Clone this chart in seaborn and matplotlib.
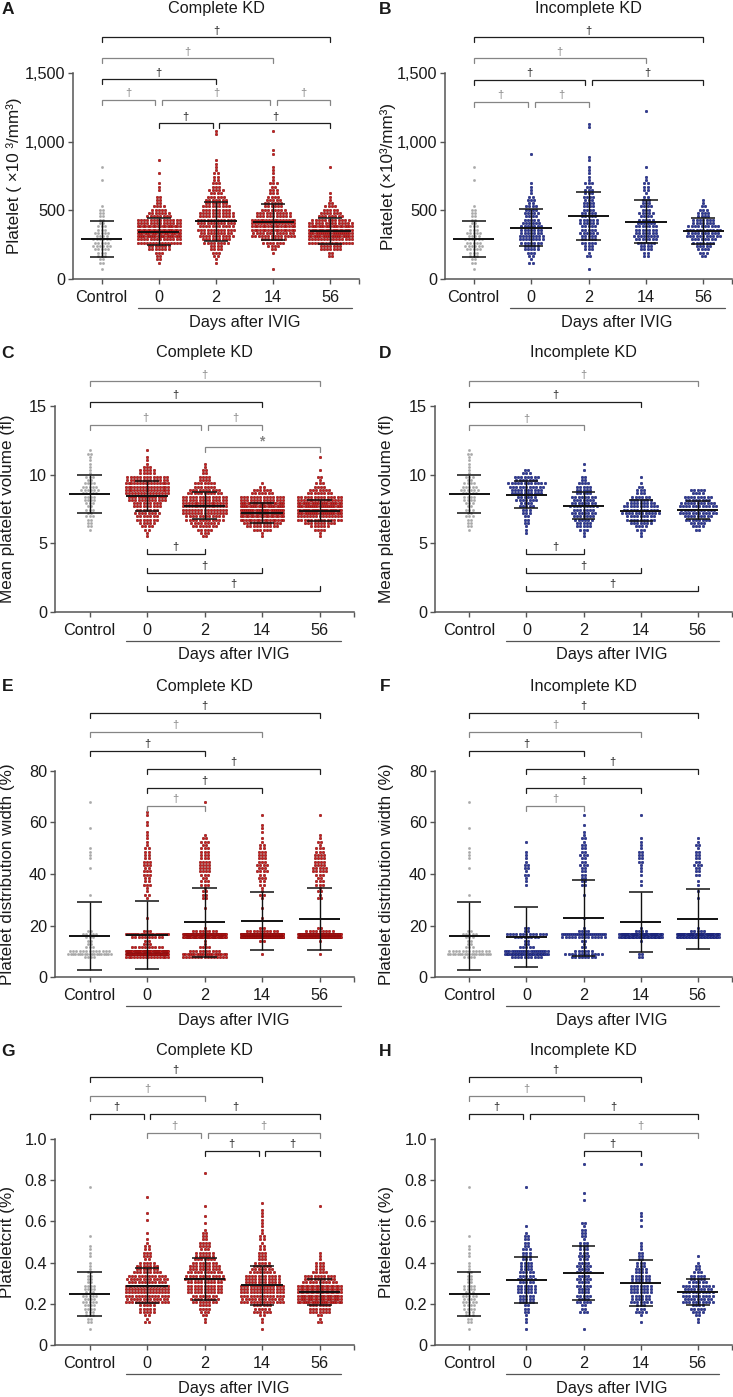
import numpy as np
import pandas as pd
import matplotlib
matplotlib.use("Agg")
import matplotlib.pyplot as plt
import seaborn as sns

# ---------------------------------------------------------------- data
GROUPS = ["Control", "0", "2", "14", "56"]

# Platelet count (x10^3/mm^3): histogram counts per 50-unit bin
PLT_EDGES = list(range(0, 1300, 50))
PLT_CONTROL = [0, 1, 3, 6, 11, 12, 9, 6, 5, 4, 2, 0, 0, 0, 1, 0, 1, 0, 0, 0, 0, 0, 0, 0, 0]
PLT_COMPLETE_D0 = [0, 0, 2, 5, 14, 30, 40, 38, 28, 14, 8, 4, 2, 2, 0, 1, 0, 1, 0, 0, 0, 0, 0, 0, 0]
PLT_COMPLETE_D2 = [0, 0, 2, 4, 8, 18, 22, 24, 25, 22, 18, 14, 10, 7, 5, 3, 2, 1, 0, 0, 0, 2, 0, 0, 0]
PLT_COMPLETE_D14 = [0, 1, 0, 0, 6, 16, 28, 35, 32, 22, 14, 10, 7, 5, 3, 2, 1, 0, 2, 0, 0, 1, 0, 0, 0]
PLT_COMPLETE_D56 = [0, 0, 0, 3, 14, 32, 42, 40, 26, 14, 8, 3, 1, 0, 0, 0, 1, 0, 0, 0, 0, 0, 0, 0, 0]
PLT_INCOMPLETE_D0 = [0, 0, 3, 4, 10, 16, 16, 14, 11, 9, 8, 5, 3, 2, 0, 0, 0, 0, 1, 0, 0, 0, 0, 0, 0]
PLT_INCOMPLETE_D2 = [0, 1, 0, 3, 5, 11, 11, 11, 12, 10, 9, 7, 7, 5, 3, 2, 1, 2, 0, 0, 0, 0, 2, 0, 0]
PLT_INCOMPLETE_D14 = [0, 0, 0, 3, 8, 14, 16, 14, 11, 9, 7, 6, 3, 4, 3, 0, 1, 0, 0, 0, 0, 0, 0, 0, 1]
PLT_INCOMPLETE_D56 = [0, 0, 0, 4, 9, 16, 22, 22, 13, 8, 5, 1, 0, 0, 0, 0, 0, 0, 0, 0, 0, 0, 0, 0, 0]
PLT_MEAN_COMPLETE = [291, 345, 420, 412, 350]
PLT_SD_COMPLETE = [131, 100, 142, 131, 94]
PLT_MEAN_INCOMPLETE = [291, 374, 459, 417, 350]
PLT_SD_INCOMPLETE = [131, 136, 177, 155, 95]
PLT_TICKS = [0, 500, 1000, 1500]
PLT_TICKLABELS = ["0", "500", "1,000", "1,500"]

# Mean platelet volume (fl): counts per 0.5 fl bin
MPV_EDGES = [5.0, 5.5, 6.0, 6.5, 7.0, 7.5, 8.0, 8.5, 9.0, 9.5, 10.0, 10.5, 11.0, 11.5, 12.0, 12.5]
MPV_CONTROL = [0, 0, 4, 5, 5, 5, 8, 12, 9, 5, 2, 2, 3, 2, 0]
MPV_COMPLETE_D0 = [0, 2, 8, 14, 16, 18, 24, 32, 34, 26, 10, 4, 1, 1, 0]
MPV_COMPLETE_D2 = [0, 6, 16, 24, 30, 34, 30, 22, 14, 8, 4, 2, 0, 0, 0]
MPV_COMPLETE_D14 = [0, 3, 20, 34, 44, 42, 30, 14, 3, 0, 0, 0, 0, 0, 0]
MPV_COMPLETE_D56 = [0, 2, 14, 28, 42, 44, 32, 16, 7, 3, 1, 0, 1, 0, 0]
MPV_INCOMPLETE_D0 = [0, 1, 3, 4, 6, 9, 13, 20, 24, 16, 4, 0, 0, 0, 0]
MPV_INCOMPLETE_D2 = [0, 3, 9, 13, 16, 17, 16, 11, 9, 4, 1, 1, 0, 0, 0]
MPV_INCOMPLETE_D14 = [0, 2, 10, 18, 24, 22, 14, 6, 3, 1, 0, 0, 0, 0, 0]
MPV_INCOMPLETE_D56 = [0, 0, 8, 16, 24, 24, 18, 10, 0, 0, 0, 0, 0, 0, 0]
MPV_MEAN_COMPLETE = [8.6, 8.45, 7.75, 7.22, 7.39]
MPV_SD_COMPLETE = [1.37, 1.09, 1.01, 0.72, 0.78]
MPV_MEAN_INCOMPLETE = [8.6, 8.55, 7.75, 7.39, 7.44]
MPV_SD_INCOMPLETE = [1.37, 0.97, 1.0, 0.8, 0.67]
MPV_TICKS = [0, 5, 10, 15]
MPV_TICKLABELS = ["0", "5", "10", "15"]

# Platelet distribution width (%): counts per bin
PDW_EDGES = [7, 8, 9, 10, 11, 12, 13, 14, 15, 16, 17, 18, 19, 20, 25, 30, 35, 40, 45, 50, 55, 60, 65, 70]
PDW_CONTROL = [0, 12, 18, 7, 2, 2, 1, 1, 3, 4, 3, 0, 0, 0, 0, 1, 0, 1, 4, 0, 1, 0, 1]
PDW_COMPLETE_D0 = [4, 35, 45, 25, 6, 3, 2, 1, 10, 20, 3, 1, 0, 1, 0, 5, 9, 11, 8, 5, 2, 3, 0]
PDW_COMPLETE_D2 = [8, 20, 12, 6, 3, 1, 0, 2, 35, 50, 10, 2, 0, 0, 1, 7, 10, 16, 12, 9, 0, 0, 1]
PDW_COMPLETE_D14 = [0, 1, 0, 0, 0, 0, 0, 3, 60, 70, 12, 3, 1, 1, 1, 5, 8, 14, 12, 4, 3, 1, 0]
PDW_COMPLETE_D56 = [0, 1, 0, 0, 0, 0, 0, 2, 55, 65, 10, 3, 1, 0, 0, 6, 10, 18, 14, 6, 0, 1, 0]
PDW_INCOMPLETE_D0 = [3, 20, 25, 12, 4, 2, 1, 1, 8, 12, 2, 2, 1, 0, 0, 0, 4, 7, 3, 1, 0, 0, 0]
PDW_INCOMPLETE_D2 = [4, 12, 6, 4, 2, 1, 1, 1, 14, 22, 4, 2, 0, 1, 0, 1, 7, 9, 9, 7, 2, 1, 0]
PDW_INCOMPLETE_D14 = [1, 2, 1, 0, 0, 0, 0, 2, 30, 38, 5, 2, 0, 0, 0, 0, 3, 4, 8, 3, 0, 1, 0]
PDW_INCOMPLETE_D56 = [0, 0, 0, 0, 0, 0, 0, 0, 28, 38, 6, 2, 0, 0, 0, 2, 3, 9, 8, 4, 0, 0, 0]
PDW_MEAN_COMPLETE = [15.9, 16.3, 21.3, 21.8, 22.7]
PDW_SD_COMPLETE = [13.1, 13.1, 13.4, 11.35, 12.05]
PDW_MEAN_INCOMPLETE = [15.9, 15.5, 23.0, 21.2, 22.5]
PDW_SD_INCOMPLETE = [13.1, 11.55, 14.7, 11.65, 11.75]
PDW_TICKS = [0, 20, 40, 60, 80]
PDW_TICKLABELS = ["0", "20", "40", "60", "80"]

# Plateletcrit (%): counts per 0.05 bin
PCT_EDGES = [0.05, 0.10, 0.15, 0.20, 0.25, 0.30, 0.35, 0.40, 0.45, 0.50, 0.55, 0.60,
             0.65, 0.70, 0.75, 0.80, 0.85, 0.90]
PCT_CONTROL = [1, 6, 12, 14, 12, 6, 3, 3, 2, 1, 0, 0, 0, 0, 1, 0, 0]
PCT_COMPLETE_D0 = [0, 4, 16, 42, 48, 38, 22, 9, 6, 2, 0, 2, 0, 1, 0, 0, 0]
PCT_COMPLETE_D2 = [0, 3, 12, 26, 34, 38, 32, 20, 12, 7, 2, 1, 1, 0, 0, 1, 0]
PCT_COMPLETE_D14 = [1, 3, 18, 42, 44, 34, 20, 10, 6, 5, 3, 3, 2, 0, 0, 0, 0]
PCT_COMPLETE_D56 = [0, 4, 22, 60, 56, 30, 10, 4, 0, 0, 0, 0, 1, 0, 0, 0, 0]
PCT_INCOMPLETE_D0 = [1, 3, 6, 16, 18, 17, 13, 10, 8, 5, 1, 0, 0, 0, 1, 0, 0]
PCT_INCOMPLETE_D2 = [1, 0, 7, 14, 14, 14, 14, 11, 9, 6, 5, 0, 0, 2, 0, 0, 1]
PCT_INCOMPLETE_D14 = [0, 2, 10, 20, 22, 18, 11, 6, 4, 0, 1, 3, 0, 0, 0, 0, 1]
PCT_INCOMPLETE_D56 = [0, 3, 14, 30, 30, 16, 6, 1, 0, 0, 0, 0, 0, 0, 0, 0, 0]
PCT_MEAN_COMPLETE = [0.247, 0.288, 0.32, 0.29, 0.256]
PCT_SD_COMPLETE = [0.108, 0.086, 0.10, 0.095, 0.0625]
PCT_MEAN_INCOMPLETE = [0.247, 0.315, 0.35, 0.302, 0.256]
PCT_SD_INCOMPLETE = [0.108, 0.11, 0.13, 0.112, 0.062]
PCT_TICKS = [0, 0.2, 0.4, 0.6, 0.8, 1.0]
PCT_TICKLABELS = ["0", "0.2", "0.4", "0.6", "0.8", "1.0"]

# significance brackets: (group i, group j, height, mark, tone)
BRACKETS_A = [(0, 4, 1760, "†", "k"), (0, 3, 1607, "†", "g"), (0, 2, 1454, "†", "k"),
              (0, 1, 1303, "†", "g"), (1, 3, 1303, "†", "g"), (3, 4, 1303, "†", "g"),
              (1, 2, 1134, "†", "k"), (2, 4, 1134, "†", "k")]
BRACKETS_B = [(0, 4, 1760, "†", "k"), (0, 3, 1607, "†", "g"), (0, 2, 1449, "†", "k"),
              (2, 4, 1449, "†", "k"), (0, 1, 1291, "†", "g"), (1, 2, 1291, "†", "g")]
BRACKETS_C = [(0, 4, 16.8, "†", "g"), (0, 3, 15.3, "†", "k"), (0, 2, 13.65, "†", "g"),
              (2, 3, 13.65, "†", "g"), (2, 4, 12.05, "*", "g"),
              (1, 2, 4.25, "†", "k"), (1, 3, 2.87, "†", "k"), (1, 4, 1.52, "†", "k")]
BRACKETS_D = [(0, 4, 16.8, "†", "g"), (0, 3, 15.3, "†", "k"), (0, 2, 13.6, "†", "g"),
              (1, 2, 4.25, "†", "k"), (1, 3, 2.87, "†", "k"), (1, 4, 1.52, "†", "k")]
BRACKETS_E = [(0, 4, 102.5, "†", "k"), (0, 3, 95.1, "†", "g"), (0, 2, 87.8, "†", "k"),
              (1, 4, 80.8, "†", "k"), (1, 3, 73.4, "†", "k"), (1, 2, 66.4, "†", "g")]
BRACKETS_F = [(0, 4, 102.5, "†", "k"), (0, 3, 95.1, "†", "g"), (0, 2, 87.8, "†", "k"),
              (1, 4, 80.8, "†", "k"), (1, 3, 73.4, "†", "k"), (1, 2, 66.4, "†", "g")]
BRACKETS_G = [(0, 3, 1.301, "†", "k"), (0, 2, 1.209, "†", "g"), (0, 1, 1.121, "†", "k"),
              (1, 4, 1.121, "†", "k"), (1, 2, 1.029, "†", "g"), (2, 4, 1.029, "†", "g"),
              (2, 3, 0.942, "†", "k"), (3, 4, 0.942, "†", "k")]
BRACKETS_H = [(0, 3, 1.301, "†", "k"), (0, 2, 1.209, "†", "g"), (0, 1, 1.121, "†", "k"),
              (1, 4, 1.121, "†", "k"), (2, 4, 1.029, "†", "g"), (2, 3, 0.942, "†", "k")]

# ---------------------------------------------------------------- style
sns.set_theme(style="ticks")
plt.rcParams["font.family"] = ["Liberation Sans", "DejaVu Sans"]
plt.rcParams["axes.linewidth"] = 1.1

W, H = 733, 1397
fig = plt.figure(figsize=(W / 100, H / 100), dpi=100)
FS = 11.7
FS_LAB = 12.3
TXT = "#1a1a1a"
TONES = {"k": "#1e1e1e", "g": "#858585"}
COLORS = {"control": ("#a9a9a9", "#959595", 2.6, 0.25),
          "complete": ("#d11b1b", "#7a0808", 3.3, 0.35),
          "incomplete": ("#2c3a9c", "#101766", 3.3, 0.35)}


def fx(x):
    return x / W


def fy(y):
    return 1 - y / H


def expand(edges, counts):
    vals = []
    for lo, hi, n in zip(edges[:-1], edges[1:], counts):
        for k in range(n):
            vals.append(lo + (k + 0.5) * (hi - lo) / n)
    return np.array(vals)


def rows_layout(values, center, row_h, dx, max_w):
    r = np.round(values / row_h).astype(int)
    xs, ys = [], []
    for ri in np.unique(r):
        n = int((r == ri).sum())
        s = min(dx, max_w / max(n - 1, 1))
        offs = (np.arange(n) - (n - 1) / 2) * s
        xs.extend(center + offs)
        ys.extend([ri * row_h] * n)
    return np.array(xs), np.array(ys)


PANELS = [
    dict(letter="A", title="Complete KD", box=(73, 73, 359, 279), xlim=(-0.5, 4.5),
         ymax=1500, ticks=PLT_TICKS, ticklabels=PLT_TICKLABELS,
         ylabel="Platelet ( ×10 ³/mm³)", ylab_x=14, title_y=8,
         edges=PLT_EDGES,
         groups=[PLT_CONTROL, PLT_COMPLETE_D0, PLT_COMPLETE_D2, PLT_COMPLETE_D14, PLT_COMPLETE_D56],
         mean=PLT_MEAN_COMPLETE, sd=PLT_SD_COMPLETE, kind="complete", brackets=BRACKETS_A),
    dict(letter="B", title="Incomplete KD", box=(445, 73, 732, 279), xlim=(-0.5, 4.5),
         ymax=1500, ticks=PLT_TICKS, ticklabels=PLT_TICKLABELS,
         ylabel="Platelet (×10³/mm³)", ylab_x=388, title_y=8,
         edges=PLT_EDGES,
         groups=[PLT_CONTROL, PLT_INCOMPLETE_D0, PLT_INCOMPLETE_D2, PLT_INCOMPLETE_D14, PLT_INCOMPLETE_D56],
         mean=PLT_MEAN_INCOMPLETE, sd=PLT_SD_INCOMPLETE, kind="incomplete", brackets=BRACKETS_B),
    dict(letter="C", title="Complete KD", box=(55, 406, 354, 612), xlim=(-0.6, 4.6),
         ymax=15, ticks=MPV_TICKS, ticklabels=MPV_TICKLABELS,
         ylabel="Mean platelet volume (fl)", ylab_x=8, title_y=352,
         edges=MPV_EDGES,
         groups=[MPV_CONTROL, MPV_COMPLETE_D0, MPV_COMPLETE_D2, MPV_COMPLETE_D14, MPV_COMPLETE_D56],
         mean=MPV_MEAN_COMPLETE, sd=MPV_SD_COMPLETE, kind="complete", brackets=BRACKETS_C),
    dict(letter="D", title="Incomplete KD", box=(435, 406, 732, 612), xlim=(-0.6, 4.6),
         ymax=15, ticks=MPV_TICKS, ticklabels=MPV_TICKLABELS,
         ylabel="Mean platelet volume (fl)", ylab_x=387, title_y=352,
         edges=MPV_EDGES,
         groups=[MPV_CONTROL, MPV_INCOMPLETE_D0, MPV_INCOMPLETE_D2, MPV_INCOMPLETE_D14, MPV_INCOMPLETE_D56],
         mean=MPV_MEAN_INCOMPLETE, sd=MPV_SD_INCOMPLETE, kind="incomplete", brackets=BRACKETS_D),
    dict(letter="E", title="Complete KD", box=(55, 771, 354, 977), xlim=(-0.6, 4.6),
         ymax=80, ticks=PDW_TICKS, ticklabels=PDW_TICKLABELS,
         ylabel="Platelet distribution width (%)", ylab_x=8, title_y=686,
         edges=PDW_EDGES,
         groups=[PDW_CONTROL, PDW_COMPLETE_D0, PDW_COMPLETE_D2, PDW_COMPLETE_D14, PDW_COMPLETE_D56],
         mean=PDW_MEAN_COMPLETE, sd=PDW_SD_COMPLETE, kind="complete", brackets=BRACKETS_E),
    dict(letter="F", title="Incomplete KD", box=(435, 771, 732, 977), xlim=(-0.6, 4.6),
         ymax=80, ticks=PDW_TICKS, ticklabels=PDW_TICKLABELS,
         ylabel="Platelet distribution width (%)", ylab_x=387, title_y=686,
         edges=PDW_EDGES,
         groups=[PDW_CONTROL, PDW_INCOMPLETE_D0, PDW_INCOMPLETE_D2, PDW_INCOMPLETE_D14, PDW_INCOMPLETE_D56],
         mean=PDW_MEAN_INCOMPLETE, sd=PDW_SD_INCOMPLETE, kind="incomplete", brackets=BRACKETS_F),
    dict(letter="G", title="Complete KD", box=(55, 1139, 354, 1345), xlim=(-0.6, 4.6),
         ymax=1.0, ticks=PCT_TICKS, ticklabels=PCT_TICKLABELS,
         ylabel="Plateletcrit (%)", ylab_x=8, title_y=1050,
         edges=PCT_EDGES,
         groups=[PCT_CONTROL, PCT_COMPLETE_D0, PCT_COMPLETE_D2, PCT_COMPLETE_D14, PCT_COMPLETE_D56],
         mean=PCT_MEAN_COMPLETE, sd=PCT_SD_COMPLETE, kind="complete", brackets=BRACKETS_G),
    dict(letter="H", title="Incomplete KD", box=(435, 1139, 732, 1345), xlim=(-0.6, 4.6),
         ymax=1.0, ticks=PCT_TICKS, ticklabels=PCT_TICKLABELS,
         ylabel="Plateletcrit (%)", ylab_x=386, title_y=1050,
         edges=PCT_EDGES,
         groups=[PCT_CONTROL, PCT_INCOMPLETE_D0, PCT_INCOMPLETE_D2, PCT_INCOMPLETE_D14, PCT_INCOMPLETE_D56],
         mean=PCT_MEAN_INCOMPLETE, sd=PCT_SD_INCOMPLETE, kind="incomplete", brackets=BRACKETS_H),
]

for p in PANELS:
    l, t, r, b = p["box"]
    ax = fig.add_axes([fx(l), fy(b), (r - l) / W, (b - t) / H])
    ax.set_facecolor("none")
    ymax = p["ymax"]
    px_per_unit_x = (r - l) / (p["xlim"][1] - p["xlim"][0])
    unit_per_px_y = ymax / (b - t)
    row_h = 3.3 * unit_per_px_y
    dx = 3.3 / px_per_unit_x

    # dots
    frames = []
    for gi, counts in enumerate(p["groups"]):
        vals = expand(p["edges"], counts)
        xs, ys = rows_layout(vals, gi, row_h, dx, 0.74)
        frames.append(pd.DataFrame({"x": xs, "value": ys,
                                    "kind": "control" if gi == 0 else p["kind"]}))
    df = pd.concat(frames, ignore_index=True)
    for kind, sub in df.groupby("kind"):
        fc, ec, s, lw = COLORS[kind]
        sns.scatterplot(data=sub, x="x", y="value", color=fc, edgecolor=ec,
                        linewidth=lw, s=s, ax=ax, legend=False, zorder=2)

    # mean and SD
    for gi, (m, sd) in enumerate(zip(p["mean"], p["sd"])):
        ax.hlines(m, gi - 0.36, gi + 0.36, color="#111111", lw=1.4, zorder=4)
        ax.vlines(gi, m - sd, m + sd, color="#111111", lw=1.0, zorder=4)
        ax.hlines([m - sd, m + sd], gi - 0.21, gi + 0.21, color="#111111", lw=1.1, zorder=4)

    ax.set_xlim(*p["xlim"])
    ax.set_ylim(0, ymax)
    ax.set_xticks(range(len(GROUPS)))
    ax.set_xticklabels(GROUPS)
    ax.set_xticks([p["xlim"][1]], minor=True)
    ax.set_yticks(p["ticks"])
    ax.set_yticklabels(p["ticklabels"])
    ax.set_xlabel("")
    ax.set_ylabel("")
    sns.despine(ax=ax)
    for sp in ("left", "bottom"):
        ax.spines[sp].set_color("#555555")
        ax.spines[sp].set_linewidth(1.1)
    ax.tick_params(axis="both", which="both", direction="out", length=3.6, width=1.0,
                   color="#555555", labelsize=FS, labelcolor=TXT)
    ax.tick_params(axis="x", which="major", pad=4)
    ax.tick_params(axis="y", which="major", pad=2)

    # "Days after IVIG" underline and text
    tr = ax.get_xaxis_transform()
    ax.plot([0.64, 4.37], [-29 / (b - t)] * 2, transform=tr, color="#555555",
            lw=0.9, clip_on=False)
    ax.text(2.5, -43 / (b - t), "Days after IVIG", transform=tr, ha="center",
            va="center", fontsize=FS, color=TXT, clip_on=False)

    # significance brackets
    tick = 5 * unit_per_px_y
    br = p["brackets"]
    for (i, j, lev, mark, tone) in br:
        x1, x2 = float(i), float(j)
        if any(o[2] == lev and o[1] == i for o in br):
            x1 += 0.06
        if any(o[2] == lev and o[0] == j for o in br):
            x2 -= 0.06
        sign = 1 if lev < 0.4 * ymax else -1
        c = TONES[tone]
        ax.plot([x1, x1, x2, x2], [lev + sign * tick, lev, lev, lev + sign * tick],
                color=c, lw=0.9, clip_on=False, solid_joinstyle="miter")
        ax.annotate(mark, ((x1 + x2) / 2, lev), xytext=(0, 1.2 if mark == "†" else -1.5),
                    textcoords="offset points", ha="center", va="bottom",
                    fontsize=8 if mark == "†" else 10, color=c,
                    annotation_clip=False, fontweight="bold" if mark == "*" else "normal")

    # labels
    fig.text(fx((l + r) / 2), fy(p["title_y"]), p["title"], ha="center", va="center",
             fontsize=FS, color=TXT)
    lx = 8 if l < 300 else 385
    fig.text(fx(lx), fy(p["title_y"] + 1), p["letter"], ha="center", va="center",
             fontsize=12.5, fontweight="bold", color=TXT)
    fig.text(fx(p["ylab_x"]), fy((t + b) / 2), p["ylabel"], rotation=90, ha="center",
             va="center", fontsize=FS_LAB, color=TXT)

fig.savefig("out.png", dpi=100)
